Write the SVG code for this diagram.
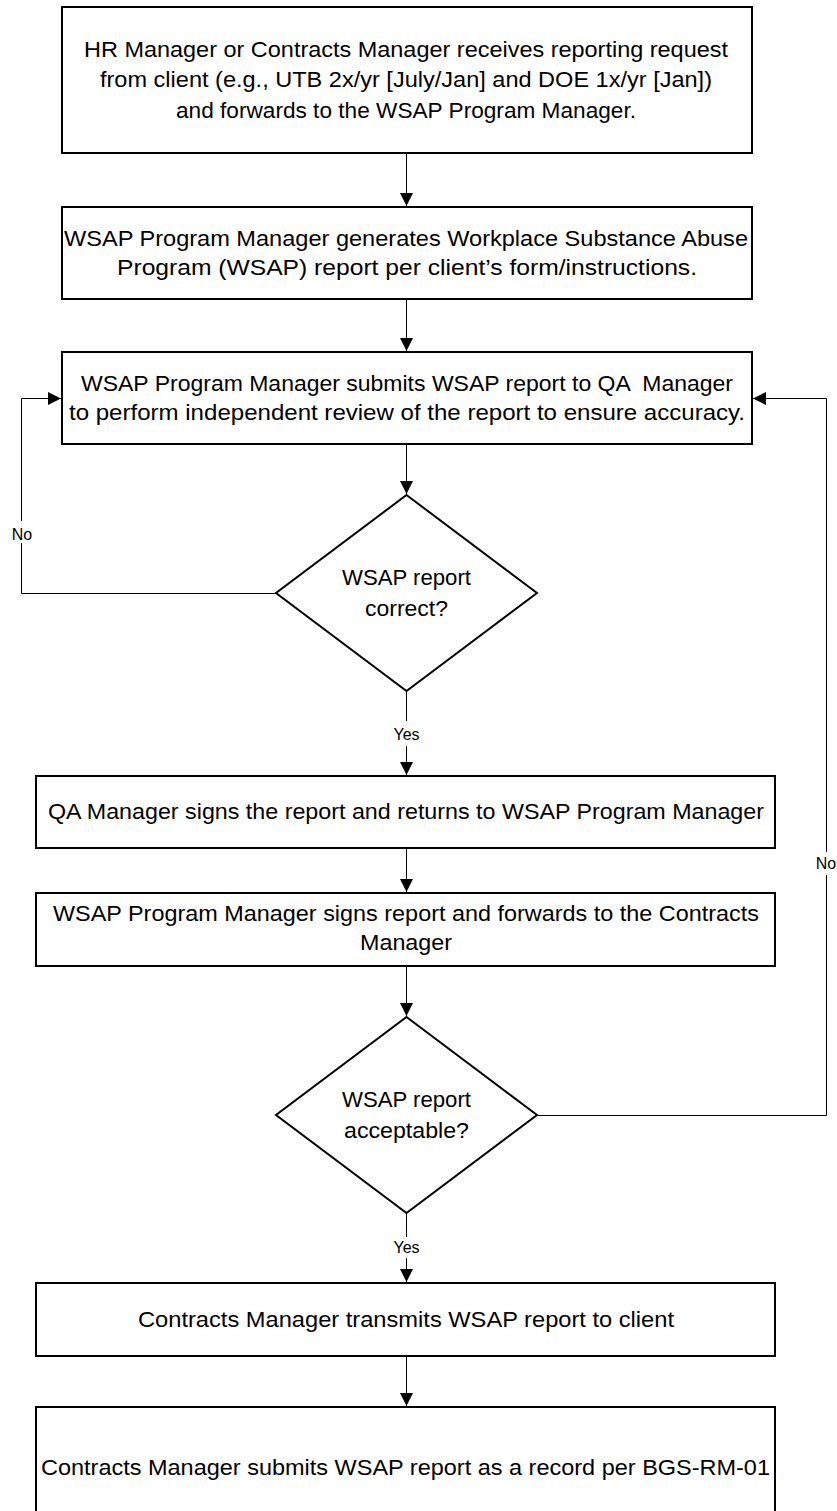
<svg xmlns="http://www.w3.org/2000/svg" width="837" height="1511" viewBox="0 0 837 1511">
<style>
.box{fill:#fff;stroke:#000;stroke-width:2}
.con{fill:none;stroke:#000;stroke-width:1}
.t{font-family:"Liberation Sans",Arial,sans-serif;font-size:22px;fill:#000}
.lbl{font-family:"Liberation Sans",Arial,sans-serif;font-size:16px;fill:#000;text-anchor:middle}
.bg{fill:#fff;stroke:none}
</style>
<defs>
<marker id="arr" markerUnits="userSpaceOnUse" markerWidth="14" markerHeight="14" refX="13" refY="6.5" orient="auto">
<path d="M0,0 L13,6.5 L0,13 z" fill="#000"/>
</marker>
</defs>
<rect width="837" height="1511" fill="#fff"/>
<g id="connectors">
<path class="con" d="M406.5 153 V206" marker-end="url(#arr)"/>
<path class="con" d="M406.5 299 V351" marker-end="url(#arr)"/>
<path class="con" d="M406.5 444 V494" marker-end="url(#arr)"/>
<path class="con" d="M406.5 691 V775" marker-end="url(#arr)"/>
<path class="con" d="M406.5 848 V892" marker-end="url(#arr)"/>
<path class="con" d="M406.5 966 V1016" marker-end="url(#arr)"/>
<path class="con" d="M406.5 1213 V1282" marker-end="url(#arr)"/>
<path class="con" d="M406.5 1356 V1406" marker-end="url(#arr)"/>
<path class="con" d="M276 593.5 H21.5 V398.5 H61" marker-end="url(#arr)"/>
<path class="con" d="M537 1115.5 H826.5 V398.5 H753" marker-end="url(#arr)"/>
<rect class="bg" x="12" y="521" width="20" height="22"/>
<text class="lbl" x="22" y="540">No</text>
<rect class="bg" x="815" y="852" width="22" height="23"/>
<text class="lbl" x="826" y="869">No</text>
<rect class="bg" x="392" y="721" width="30" height="25"/>
<text class="lbl" x="406.5" y="740">Yes</text>
<rect class="bg" x="392" y="1237" width="30" height="21"/>
<text class="lbl" x="406.5" y="1253">Yes</text>
</g>
<g id="n1">
<rect class="box" x="62" y="7" width="690" height="146"/>
<text class="t" x="84" y="57" textLength="644" lengthAdjust="spacingAndGlyphs">HR Manager or Contracts Manager receives reporting request</text>
<text class="t" x="100" y="87" textLength="612" lengthAdjust="spacingAndGlyphs">from client (e.g., UTB 2x/yr [July/Jan] and DOE 1x/yr [Jan])</text>
<text class="t" x="176" y="118" textLength="460" lengthAdjust="spacingAndGlyphs">and forwards to the WSAP Program Manager.</text>
</g>
<g id="n2">
<rect class="box" x="62" y="207" width="690" height="92"/>
<text class="t" x="64" y="246" textLength="684" lengthAdjust="spacingAndGlyphs">WSAP Program Manager generates Workplace Substance Abuse</text>
<text class="t" x="117" y="275" textLength="580" lengthAdjust="spacingAndGlyphs">Program (WSAP) report per client’s form/instructions.</text>
</g>
<g id="n3">
<rect class="box" x="62" y="352" width="690" height="92"/>
<text class="t" x="81" y="391" textLength="652" lengthAdjust="spacingAndGlyphs" xml:space="preserve">WSAP Program Manager submits WSAP report to QA  Manager</text>
<text class="t" x="69" y="420" textLength="676" lengthAdjust="spacingAndGlyphs">to perform independent review of the report to ensure accuracy.</text>
</g>
<g id="d1">
<polygon class="box" points="406.5,495 537,593 406.5,691 276,593"/>
<text class="t" x="342" y="585" textLength="129" lengthAdjust="spacingAndGlyphs">WSAP report</text>
<text class="t" x="365" y="616" textLength="83" lengthAdjust="spacingAndGlyphs">correct?</text>
</g>
<g id="n4">
<rect class="box" x="36" y="776" width="739" height="72"/>
<text class="t" x="48" y="819" textLength="716" lengthAdjust="spacingAndGlyphs">QA Manager signs the report and returns to WSAP Program Manager</text>
</g>
<g id="n5">
<rect class="box" x="36" y="893" width="739" height="73"/>
<text class="t" x="53" y="921" textLength="706" lengthAdjust="spacingAndGlyphs">WSAP Program Manager signs report and forwards to the Contracts</text>
<text class="t" x="360" y="950" textLength="92" lengthAdjust="spacingAndGlyphs">Manager</text>
</g>
<g id="d2">
<polygon class="box" points="406.5,1017 537,1115 406.5,1213 276,1115"/>
<text class="t" x="342" y="1107" textLength="129" lengthAdjust="spacingAndGlyphs">WSAP report</text>
<text class="t" x="344" y="1138" textLength="125" lengthAdjust="spacingAndGlyphs">acceptable?</text>
</g>
<g id="n6">
<rect class="box" x="36" y="1283" width="739" height="73"/>
<text class="t" x="138" y="1327" textLength="536" lengthAdjust="spacingAndGlyphs">Contracts Manager transmits WSAP report to client</text>
</g>
<g id="n7">
<rect class="box" x="36" y="1407" width="739" height="121"/>
<text class="t" x="41" y="1475" textLength="729" lengthAdjust="spacingAndGlyphs">Contracts Manager submits WSAP report as a record per BGS-RM-01</text>
</g>
</svg>
